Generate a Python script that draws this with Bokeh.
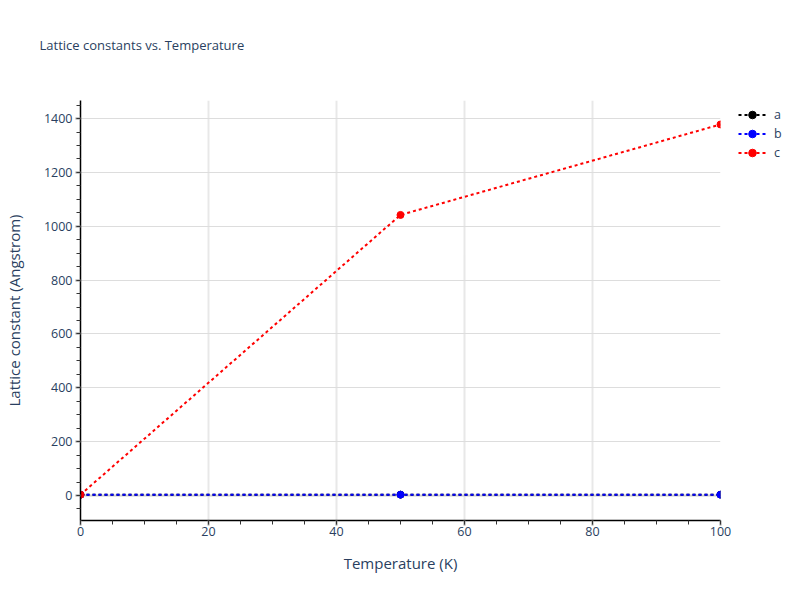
from bokeh.plotting import figure
from bokeh.models import (Legend, LegendItem, Span, SingleIntervalTicker,
                          Range1d)
from bokeh.embed import file_html
from bokeh.resources import INLINE

# data
temperature = [0, 50, 100]
lattice_a = [3.0, 3.0, 3.0]
lattice_b = [3.0, 3.0, 3.0]
lattice_c = [3.0, 1042, 1378]

series_names = ['a', 'b', 'c']
series_colors = ['black', 'blue', 'red']
title_text = 'Lattice constants vs. Temperature'

FONT = "Open Sans"
TEXT_COLOR = '#2a3f5f'

p = figure(frame_width=640, frame_height=420, output_backend="svg",
           toolbar_location=None,
           x_range=Range1d(0, 100), y_range=Range1d(-93, 1467),
           min_border_left=79, min_border_right=65,
           min_border_top=100, min_border_bottom=64)
p.outline_line_color = None
p.background_fill_color = 'white'
p.border_fill_color = 'white'

# blank trailing lines lift the title well above the plot area
p.title.text = title_text + '\n \n '
p.title.align = 'left'
p.title.vertical_align = 'top'
p.title.offset = -41
p.title.standoff = 18
p.title.text_font = FONT
p.title.text_font_size = '13px'
p.title.text_font_style = 'normal'
p.title.text_color = TEXT_COLOR

# grid
p.xgrid.grid_line_color = '#e8e8e8'
p.xgrid.grid_line_width = 2
p.ygrid.grid_line_color = '#dddddd'
p.ygrid.grid_line_width = 1
p.xaxis.ticker = SingleIntervalTicker(interval=20, num_minor_ticks=4)
p.yaxis.ticker = SingleIntervalTicker(interval=200, num_minor_ticks=4)

for ax in (p.xaxis[0], p.yaxis[0]):
    ax.axis_line_color = 'black'
    ax.axis_line_width = 1.5
    ax.major_tick_line_color = '#999999'
    ax.major_tick_line_width = 2
    ax.major_tick_out = 5
    ax.major_tick_in = 0
    ax.minor_tick_line_color = '#333333'
    ax.minor_tick_out = 4
    ax.minor_tick_in = 0
    ax.major_label_text_font = FONT
    ax.major_label_text_font_size = '12.5px'
    ax.major_label_text_color = TEXT_COLOR
    ax.axis_label_text_font = FONT
    ax.axis_label_text_font_size = '15px'
    ax.axis_label_text_font_style = 'normal'
    ax.axis_label_text_color = TEXT_COLOR

p.xaxis.axis_label = 'Temperature (K)'
p.xaxis.major_label_standoff = 1
p.xaxis.axis_label_standoff = 14
p.yaxis.axis_label = 'Lattice constant (Angstrom)'
p.yaxis.major_label_standoff = 3
p.yaxis.axis_label_standoff = 17

# zero line
p.add_layout(Span(location=0, dimension='width', line_color='#cccccc',
                  line_width=2, level='underlay'))

items = []
for name, color, vals in zip(series_names, series_colors,
                             [lattice_a, lattice_b, lattice_c]):
    ln = p.line(temperature, vals, line_color=color, line_width=2,
                line_dash="3 3")
    mk = p.scatter(temperature, vals, size=7, fill_color=color,
                   line_color=color)
    items.append(LegendItem(label=name, renderers=[ln, mk]))

legend = Legend(items=items, location=(18, 358), glyph_width=28,
                glyph_height=19, spacing=0, padding=0, margin=0,
                label_standoff=8, label_height=19, label_text_font=FONT,
                label_text_font_size='12.5px', label_text_color=TEXT_COLOR,
                border_line_color=None, background_fill_alpha=0)
p.add_layout(legend, 'right')

open("out.html", "w").write(file_html(p, INLINE))
